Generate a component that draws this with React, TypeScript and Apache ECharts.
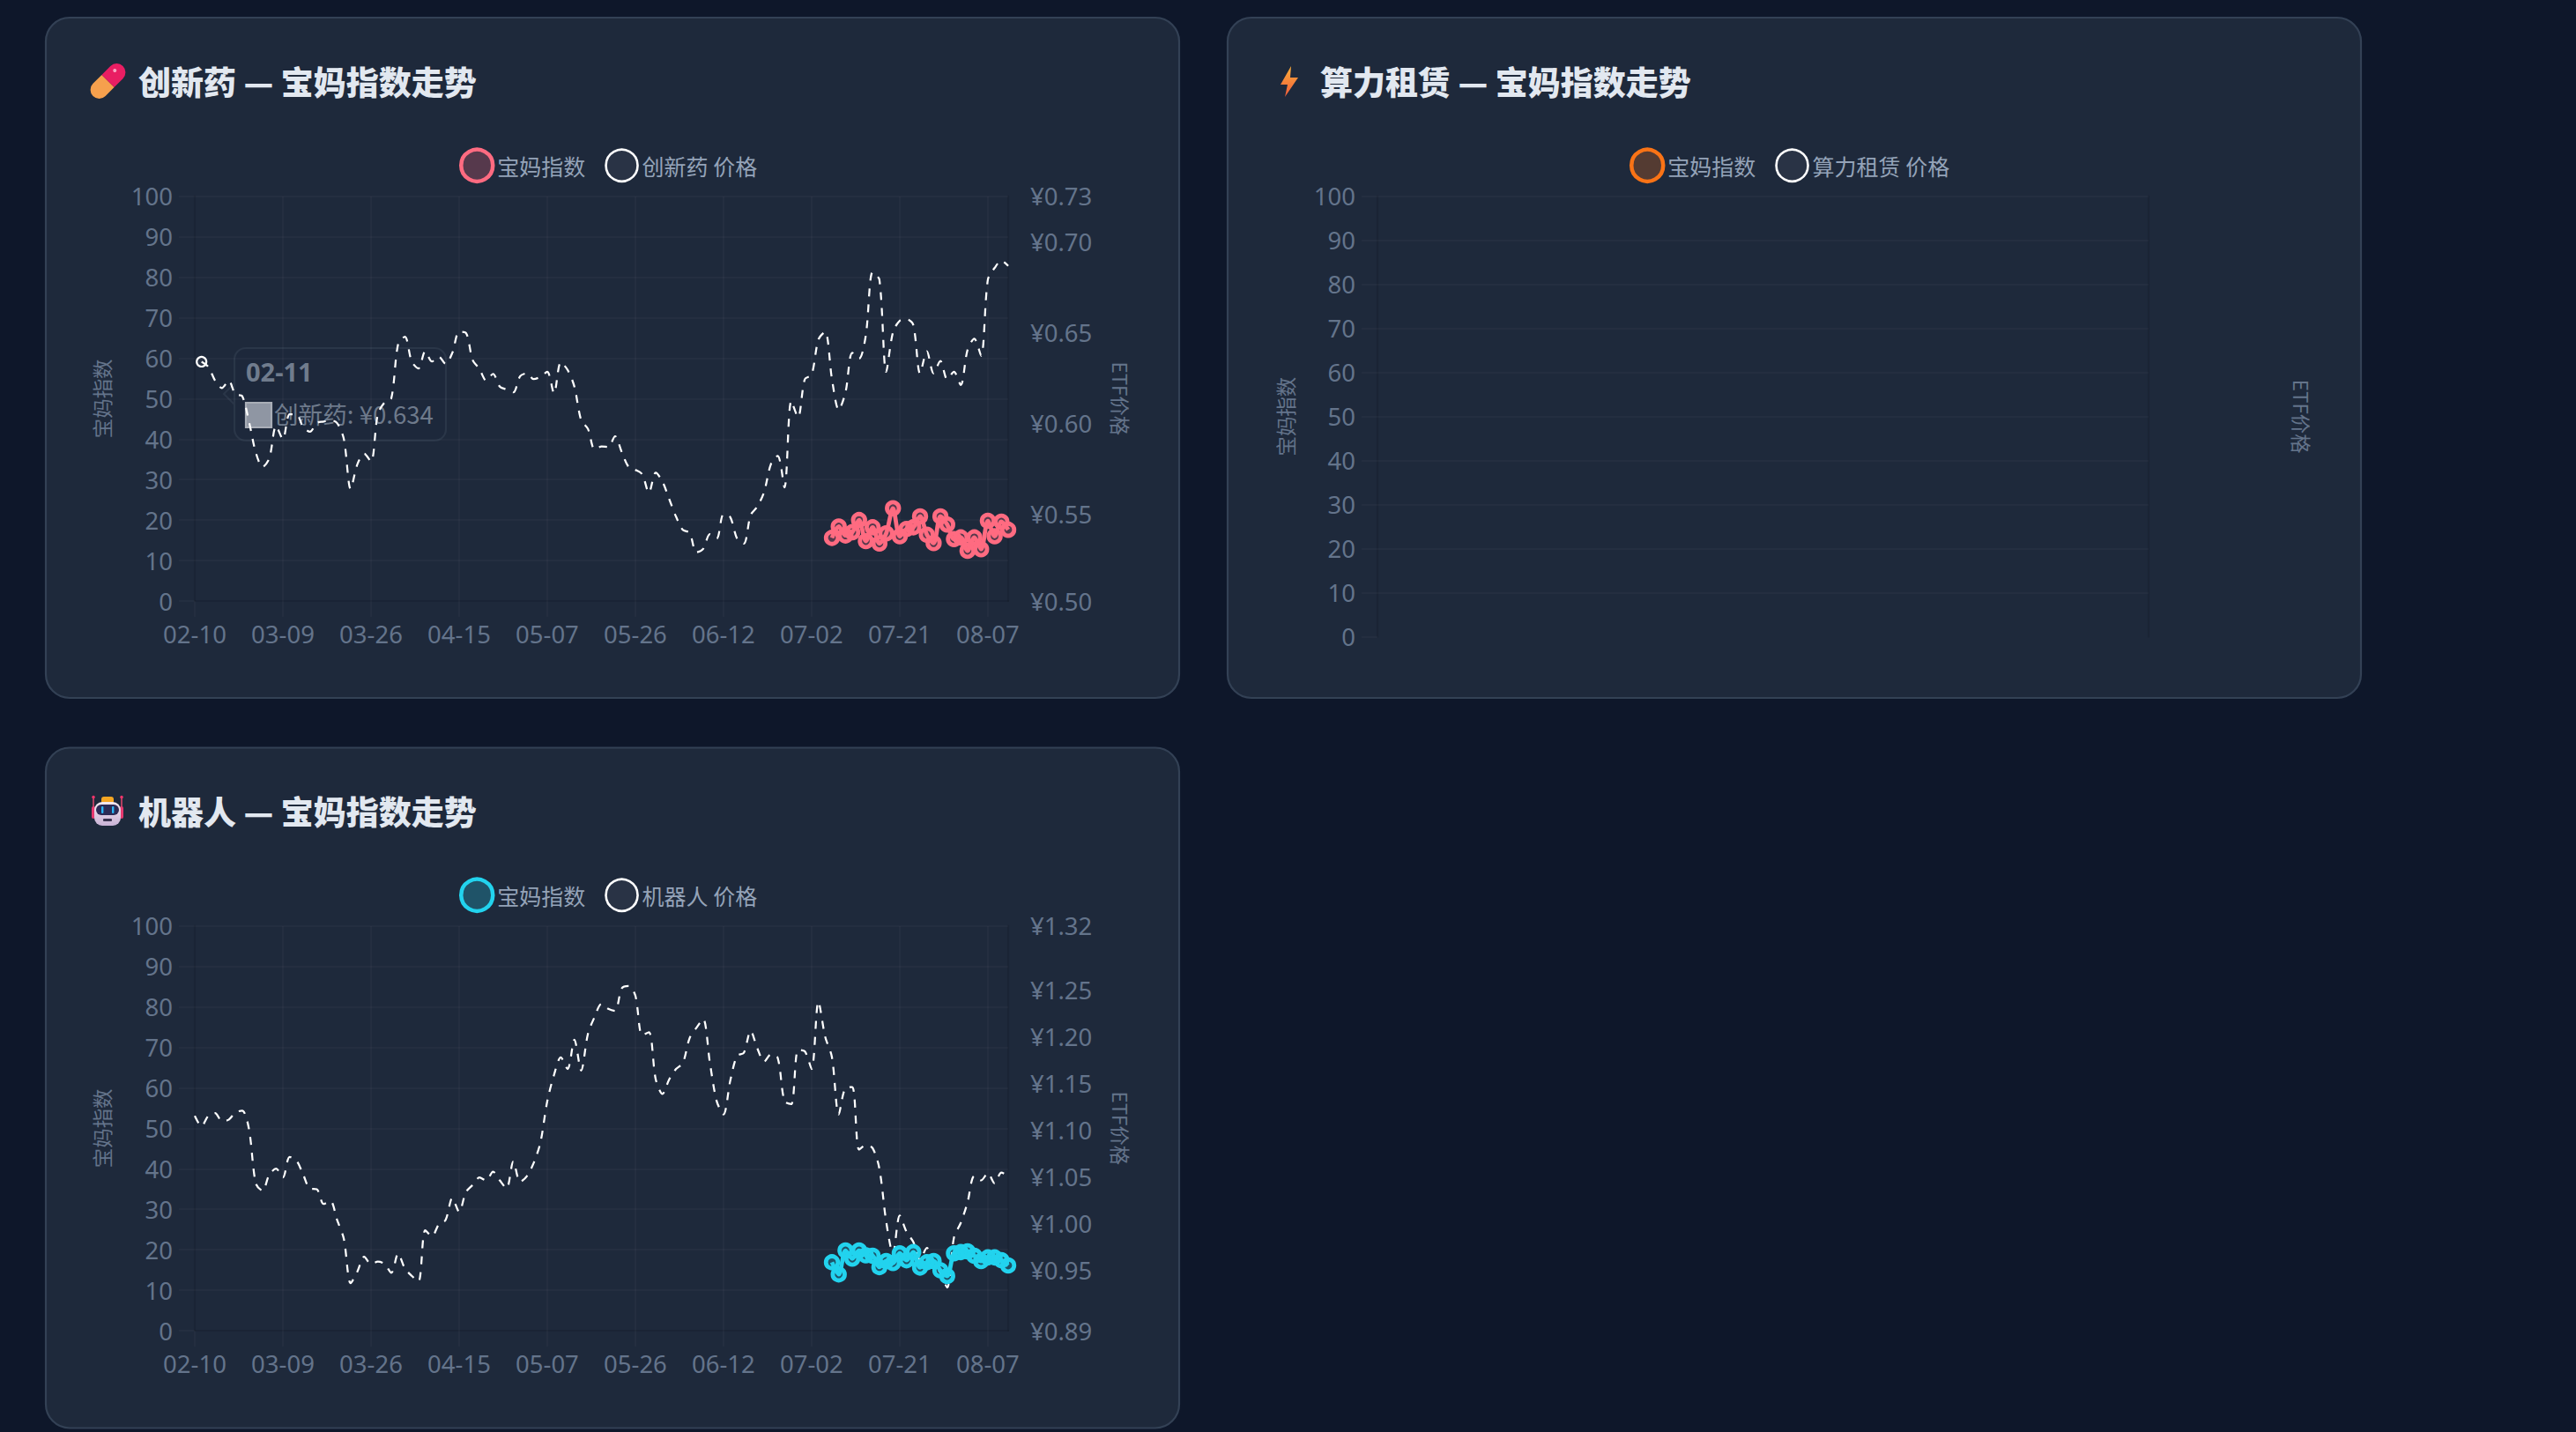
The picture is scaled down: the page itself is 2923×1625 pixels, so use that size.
import React, { useEffect, useRef } from "react";
import * as echarts from "echarts";

const dates = [
  "02-10","02-11","02-12","02-13","02-24","02-25","02-26","02-27","03-02","03-03","03-04","03-05","03-06","03-09",
  "03-10","03-11","03-12","03-13","03-16","03-17","03-18","03-19","03-20","03-23","03-24","03-25","03-26",
  "03-27","03-30","03-31","04-01","04-02","04-03","04-07","04-08","04-09","04-10","04-13","04-14","04-15",
  "04-16","04-17","04-20","04-21","04-22","04-23","04-24","04-27","04-28","04-29","04-30","05-06","05-07",
  "05-08","05-11","05-12","05-13","05-14","05-15","05-18","05-19","05-20","05-21","05-22","05-25","05-26",
  "05-27","05-28","05-29","06-01","06-02","06-03","06-04","06-05","06-08","06-09","06-10","06-11","06-12",
  "06-15","06-16","06-17","06-18","06-22","06-23","06-24","06-25","06-26","06-29","06-30","07-01","07-02",
  "07-03","07-06","07-07","07-08","07-09","07-10","07-13","07-14","07-15","07-16","07-17","07-20","07-21",
  "07-22","07-23","07-24","07-27","07-28","07-29","07-30","07-31","08-03","08-04","08-05","08-06","08-07",
  "08-10","08-11","08-12",
];

const pharmaPrice = [
  null,.634,.6312,.6236,.6195,.6236,.6160,.6150,.6010,.5840,.5760,.5808,.5986,.5913,.6050,.6050,.5978,.5954,.6002,.6010,
  .6018,.6002,.5913,.5639,.5776,.5833,.5789,.6050,.6115,.6139,.6437,.6478,.6341,.6303,.6397,.6341,.6368,.6328,.6389,.6505,
  .6499,.6349,.6300,.6236,.6273,.6203,.6187,.6171,.6260,.6276,.6244,.6257,.6284,.6166,.6337,.6295,.6203,.6018,.5970,.5857,
  .5873,.5870,.5929,.5841,.5760,.5744,.5720,.5618,.5728,.5679,.5582,.5486,.5413,.5397,.5289,.5308,.5389,.5365,.5499,.5483,
  .5365,.5337,.5494,.5542,.5623,.5776,.5821,.5647,.6123,.6034,.6244,.6268,.6462,.6505,.6244,.6075,.6171,.6389,.6357,.6486,
  .6833,.6792,.6284,.6502,.6566,.6575,.6542,.6276,.6397,.6276,.6344,.6244,.6284,.6212,.6405,.6467,.6373,.6792,.6857,.6897,.6868,
];
const pharmaIndex = [15.6,18.4,16.2,17,20,14.8,18.2,14.2,16.7,22.9,16,17.8,18.2,20.9,16.4,14.3,20.9,18.9,15.3,15.7,12.4,15.7,12.8,19.8,16,19.6,17.6];

const robotPrice = [
  1.1155,1.1045,1.1155,1.1186,1.1101,1.1114,1.1192,1.1211,1.1013,1.0433,1.0354,1.0527,1.0590,1.0496,1.0715,1.0678,1.0527,1.0376,1.0370,1.0213,
  1.0245,1.0041,.9837,.9366,.9491,.9648,.9570,.9595,.9570,.9476,.9680,.9523,.9444,.9382,.9931,.9868,.9993,1.0041,1.0276,1.0128,
  1.0339,1.0417,1.0496,1.0464,1.0558,1.0464,1.0379,1.0668,1.0449,1.0511,1.0652,1.0872,1.1311,1.1594,1.1782,1.1657,1.1971,1.1641,1.2033,1.2216,
  1.2354,1.2301,1.2279,1.2520,1.2545,1.2442,1.2018,1.2050,1.1547,1.1390,1.1547,1.1657,1.1720,1.1987,1.2097,1.2191,1.1720,1.1312,1.1171,1.1532,
  1.1798,1.1830,1.2065,1.1877,1.1736,1.1814,1.1776,1.1312,1.1281,1.1861,1.1846,1.1657,1.2379,1.2002,1.1783,1.1171,1.1453,1.1463,1.0794,1.0841,
  1.0810,1.0590,1.0025,.9680,1.0088,.9915,.9806,.9617,.9743,.9586,.9476,.9319,.9853,1.0010,1.0229,1.0512,1.0465,1.0543,1.0433,1.0549,1.0512,
];
const robotIndex = [16.9,13.9,19.8,17.8,19.8,18.6,18.5,15.7,17.2,16.7,19.1,17.4,19.4,15.6,16.9,17.2,14.9,13.5,19.1,19.4,19.6,18.5,17.2,18.1,18.1,17.4,16.1];

const pharmaRightTicks = [0.5021, 0.55, 0.6, 0.65, 0.7, 0.7252];
const robotRightTicks = [0.8857, 0.95, 1.0, 1.05, 1.1, 1.15, 1.2, 1.25, 1.3188];
const INDEX_START = 94;
const LABEL_EVERY = 13;

const GRID = "rgba(255,255,255,0.028)";
const EDGE = "rgba(0,0,0,0.1)";
const LABEL = "#64748b";
const FONT = '"Noto Sans","Noto Sans CJK SC",sans-serif';
const CJK = '"Noto Sans CJK SC","Noto Sans",sans-serif';
const LW = 2.24;

const leftAxis = (gridIndex: number, gap: number) => ({
  type: "value", gridIndex, min: 0, max: 100, interval: 10, position: "left",
  name: "宝妈指数", nameLocation: "middle", nameGap: gap, nameRotate: 90,
  nameTextStyle: { color: LABEL, fontSize: 22.4, fontFamily: CJK },
  axisLine: { show: true, onZero: false, lineStyle: { color: EDGE, width: LW } },
  axisTick: { show: true, length: 18, lineStyle: { color: GRID, width: LW } },
  axisLabel: { show: true, color: LABEL, fontSize: 27.5, fontFamily: FONT, margin: 25, padding: [0, 0, 5, 0] },
  splitLine: { show: true, showMinLine: false, lineStyle: { color: GRID, width: LW } },
});

const rightAxis = (gridIndex: number, gap: number, min: number, max: number, ticks: number[] | null) => ({
  type: "value", gridIndex, min, max, position: "right",
  name: "ETF价格", nameLocation: "middle", nameGap: gap, nameRotate: -90,
  nameTextStyle: { color: LABEL, fontSize: 22.4, fontFamily: CJK },
  axisLine: { show: true, onZero: false, lineStyle: { color: EDGE, width: LW } },
  axisTick: { show: false },
  splitLine: { show: false },
  axisLabel: ticks
    ? { show: true, customValues: ticks, color: LABEL, fontSize: 27.5, fontFamily: FONT, margin: 25, padding: [0, 0, 5, 0],
        formatter: (v: number) => "¥" + v.toFixed(2) }
    : { show: false },
});

const everyThirteen = (i: number) => i % LABEL_EVERY === 0;

const dateAxis = (gridIndex: number, visible: boolean) => ({
  type: "category", gridIndex, data: dates, boundaryGap: false, show: visible,
  axisLine: { show: true, lineStyle: { color: EDGE, width: LW } },
  axisTick: { show: true, length: 18, interval: everyThirteen, lineStyle: { color: GRID, width: LW } },
  axisLabel: { show: true, interval: everyThirteen, color: LABEL, fontSize: 27.5, fontFamily: FONT, margin: 24, hideOverlap: false },
  splitLine: { show: true, interval: everyThirteen, showMinLine: false, lineStyle: { color: GRID, width: LW } },
});

const indexSeries = (idx: number, color: string, fill: string, values: number[]) => ({
  type: "line", name: "宝妈指数", xAxisIndex: idx, yAxisIndex: idx * 2, silent: true, z: 4,
  data: values.length ? [...new Array(INDEX_START).fill(null), ...values] : [],
  smooth: 0.3, showSymbol: true, symbol: "circle", symbolSize: 13.6, showAllSymbol: true,
  lineStyle: { color, width: 4.8 },
  itemStyle: { color: fill, borderColor: color, borderWidth: 4.8 },
});

const priceSeries = (idx: number, name: string, values: (number | null)[], extra: object = {}) => ({
  type: "line", name, xAxisIndex: idx, yAxisIndex: idx * 2 + 1, silent: true, z: 3,
  data: values, smooth: 0.3, showSymbol: false, symbol: "none",
  lineStyle: { color: "#ffffff", width: LW, type: [9, 9] },
  itemStyle: { color: "#ffffff" },
  ...extra,
});

const legend = (left: number, top: number, color: string, fill: string, price: string) => ({
  left, top, padding: 0, itemGap: 22, itemWidth: 36, itemHeight: 36, icon: "circle", orient: "horizontal",
  selectedMode: false,
  textStyle: { color: "#94a3b8", fontSize: 25, fontFamily: CJK },
  data: [
    { name: "宝妈指数", icon: "circle", itemStyle: { color: fill, borderColor: color, borderWidth: 4.5 } },
    { name: price, icon: "circle", itemStyle: { color: "rgba(255,255,255,0.05)", borderColor: "#ffffff", borderWidth: 2.6 } },
  ],
});

const card = (x: number, y: number) => ({
  type: "rect", z: -10, silent: true,
  shape: { x, y, width: 1286, height: 772, r: 27 },
  style: { fill: "#1e293b", stroke: "#334155", lineWidth: 2.2 },
});

const title = (x: number, y: number, text: string) => ({
  type: "text", x, y, z: 5, silent: true,
  style: { text, fill: "#e2e8f0", font: `900 37px ${CJK}`, verticalAlign: "middle" },
});

const pill = {
  type: "group", x: 122.5, y: 92, rotation: Math.PI / 4, z: 5, silent: true,
  children: [
    { type: "rect", shape: { x: -24, y: -10, width: 24, height: 20, r: [10, 0, 0, 10] },
      style: { fill: "#f6a04d" } },
    { type: "rect", shape: { x: 0, y: -10, width: 24, height: 20, r: [0, 10, 10, 0] },
      style: { fill: "#e91e63" } },
    { type: "circle", shape: { cx: 14, cy: -3, r: 2 }, style: { fill: "#f8a5c2" } },
  ],
};

const bolt = {
  type: "polygon", z: 5, silent: true,
  shape: { points: [[1465, 75], [1453, 96], [1461, 96], [1458, 110], [1473, 88], [1464, 88]] },
  style: { fill: { type: "linear", x: 0, y: 0, x2: 0, y2: 1,
    colorStops: [{ offset: 0, color: "#fdb03a" }, { offset: 1, color: "#ee5a3a" }] } },
};

const robot = {
  type: "group", z: 5, silent: true,
  children: [
    { type: "rect", shape: { x: 115, y: 904, width: 14, height: 8, r: 3 }, style: { fill: "#f5a623" } },
    { type: "line", shape: { x1: 106, y1: 905, x2: 106, y2: 916 }, style: { stroke: "#e5486f", lineWidth: 1.5 } },
    { type: "line", shape: { x1: 138, y1: 905, x2: 138, y2: 916 }, style: { stroke: "#e5486f", lineWidth: 1.5 } },
    { type: "circle", shape: { cx: 106, cy: 904.5, r: 1.8 }, style: { fill: "#f0356b" } },
    { type: "circle", shape: { cx: 138, cy: 904.5, r: 1.8 }, style: { fill: "#f0356b" } },
    { type: "rect", shape: { x: 104, y: 915, width: 4, height: 14, r: 2 }, style: { fill: "#e5396f" } },
    { type: "rect", shape: { x: 136, y: 915, width: 4, height: 14, r: 2 }, style: { fill: "#e5396f" } },
    { type: "rect", shape: { x: 107, y: 910, width: 30, height: 27, r: 9 },
      style: { fill: { type: "linear", x: 0, y: 0, x2: 0, y2: 1,
        colorStops: [{ offset: 0, color: "#f3e8ef" }, { offset: 1, color: "#c9b2d6" }] } } },
    { type: "rect", shape: { x: 109, y: 913, width: 26, height: 12, r: 6 }, style: { fill: "#2c2b55" } },
    { type: "rect", shape: { x: 115, y: 915, width: 2.4, height: 8, r: 1 }, style: { fill: "#29b6f6" } },
    { type: "rect", shape: { x: 127, y: 915, width: 2.4, height: 8, r: 1 }, style: { fill: "#29b6f6" } },
    { type: "rect", shape: { x: 117, y: 929, width: 10, height: 3, r: 1 }, style: { fill: "#3a3350" } },
  ],
};

const tooltipBox = {
  type: "group", z: 20, silent: true,
  children: [
    { type: "rect", shape: { x: 266, y: 395, width: 240, height: 105, r: 13 },
      style: { fill: "rgba(30,41,59,0.35)", stroke: "#2a3648", lineWidth: 2.2 } },
    { type: "polyline", shape: { points: [[266, 435], [254, 447], [266, 459]] },
      style: { fill: "none", stroke: "#2a3648", lineWidth: 2.2 } },
    { type: "text", x: 279, y: 421,
      style: { text: dates[1], fill: "#707c8d", font: `700 29px ${FONT}`, verticalAlign: "middle" } },
    { type: "rect", shape: { x: 279, y: 457, width: 29, height: 28 },
      style: { fill: "#8f96a3", stroke: "#a9aeb7", lineWidth: 2.2 } },
    { type: "text", x: 311, y: 469,
      style: { text: "创新药: ¥" + (pharmaPrice[1] as number).toFixed(3), fill: "#6e7a8b",
        font: `400 27.6px ${CJK}`, verticalAlign: "middle" } },
  ],
};

const option = {
  animation: false,
  backgroundColor: "#0e172a",
  grid: [
    { left: 221, top: 222.7, width: 923, height: 459.3, outerBoundsMode: "none", containLabel: false },
    { left: 1563, top: 222.7, width: 875, height: 500, outerBoundsMode: "none", containLabel: false },
    { left: 221, top: 1050.7, width: 923, height: 459.3, outerBoundsMode: "none", containLabel: false },
  ],
  xAxis: [dateAxis(0, true), dateAxis(1, false), dateAxis(2, true)],
  yAxis: [
    leftAxis(0, 95), rightAxis(0, 117, 0.5021, 0.7252, pharmaRightTicks),
    leftAxis(1, 94), rightAxis(1, 163, 0, 1, null),
    leftAxis(2, 95), rightAxis(2, 117, 0.8857, 1.3188, robotRightTicks),
  ],
  legend: [
    legend(521, 167.5, "#ff6b81", "rgba(255,107,129,0.25)", "创新药 价格"),
    legend(1849, 167.5, "#f97316", "rgba(249,115,22,0.25)", "算力租赁 价格"),
    legend(521, 995.5, "#22d3ee", "rgba(34,211,238,0.25)", "机器人 价格"),
  ],
  series: [
    priceSeries(0, "创新药 价格", pharmaPrice, {
      markPoint: { silent: true, symbol: "circle", symbolSize: 11,
        itemStyle: { color: "rgba(255,255,255,0.05)", borderColor: "#ffffff", borderWidth: 2.2 },
        label: { show: false },
        data: [{ coord: [dates[1], pharmaPrice[1]] }] },
    }),
    indexSeries(0, "#ff6b81", "rgba(255,107,129,0.25)", pharmaIndex),
    priceSeries(1, "算力租赁 价格", []),
    indexSeries(1, "#f97316", "rgba(249,115,22,0.25)", []),
    priceSeries(2, "机器人 价格", robotPrice),
    indexSeries(2, "#22d3ee", "rgba(34,211,238,0.25)", robotIndex),
  ],
  graphic: [
    card(52, 20), card(1393, 20), card(52, 848.5),
    pill, bolt, robot,
    title(157, 92, "创新药 — 宝妈指数走势"),
    title(1498, 92, "算力租赁 — 宝妈指数走势"),
    title(157, 920, "机器人 — 宝妈指数走势"),
    tooltipBox,
  ],
};

export default function App() {
  const ref = useRef<HTMLDivElement>(null);
  useEffect(() => {
    document.body.style.margin = "0";
    document.body.style.background = "#0e172a";
    const chart = echarts.init(ref.current!, undefined, { renderer: "svg" });
    chart.setOption(option as any);
    return () => chart.dispose();
  }, []);
  return <div ref={ref} style={{ width: 2923, height: 1625 }} />;
}
